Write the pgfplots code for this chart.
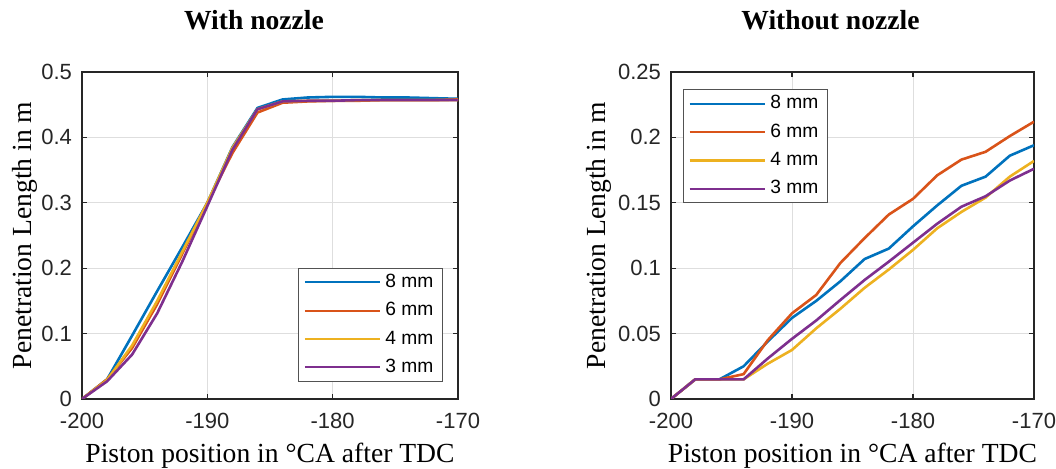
\documentclass[border=0pt]{standalone}
\usepackage{fontspec}
\setmainfont{Liberation Serif}
\setsansfont{Liberation Sans}
\usepackage{pgfplots}
\pgfplotsset{compat=1.18}

\definecolor{mblue}{rgb}{0,0.447,0.741}
\definecolor{morange}{rgb}{0.85,0.325,0.098}
\definecolor{myellow}{rgb}{0.929,0.694,0.125}
\definecolor{mpurple}{rgb}{0.494,0.184,0.556}
\definecolor{axgray}{rgb}{0.15,0.15,0.15}

\pgfplotsset{
  every axis title shift=0pt,
  panel/.style={
    scale only axis, anchor=south west, height=163.5pt,
    xmin=-200, xmax=-170, xtick={-200,-190,-180,-170},
    grid=major, major grid style={line width=0.4pt, black!13},
    axis line style={line width=0.6pt, axgray},
    every tick/.style={axgray, line width=0.6pt},
    tick align=inside, major tick length=2.5pt,
    ticklabel style={font=\sffamily\fontsize{11}{13}\selectfont, text=axgray},
    xticklabel style={yshift=-3.5pt},
    yticklabel style={xshift=-1.5pt},
    /pgf/number format/assume math mode=true,
    /pgf/number format/fixed, /pgf/number format/precision=2,
    ylabel={Penetration Length in m},
    xlabel={Piston position in °CA after TDC},
    label style={font=\fontsize{13.8}{16}\selectfont},
    xlabel style={at={(axis description cs:0.5,0)}, anchor=base, yshift=-31.8pt},
    title style={at={(axis description cs:0.5,1)}, anchor=base, yshift=21.3pt,
      font=\bfseries\fontsize{13.8}{16}\selectfont},
    every axis plot/.append style={line width=1.3pt},
    legend cell align=left,
    legend image code/.code={\draw[#1, line width=1.1pt] (0pt,0pt) -- (37.8pt,0pt);},
    legend style={font=\sffamily\fontsize{9.6}{11}\selectfont, draw=axgray!80,
      line width=0.5pt, fill=white, inner xsep=2.5pt, inner ysep=2pt,
      row sep=4pt, nodes={inner ysep=1pt, inner xsep=2pt}},
  }
}

\begin{document}
\begin{tikzpicture}
\useasboundingbox (0,0) rectangle (528pt,-234.5pt);

% left panel: with nozzle
\begin{axis}[panel,
  at={(41pt,-199.5pt)}, width=188pt,
  ymin=0, ymax=0.5, ytick={0,0.1,0.2,0.3,0.4,0.5},
  title={With nozzle}, title style={xshift=-8pt},
  ylabel style={at={(axis description cs:-0.1356,0.5)}, anchor=base},
  legend style={at={(0.96,0.052)}, anchor=south east},
]
\addplot[mblue] coordinates {
  (-200,0) (-198,0.030) (-196,0.097) (-194,0.165) (-192,0.232) (-190,0.300)
  (-188,0.385) (-186,0.445) (-184,0.458) (-182,0.461) (-180,0.462) (-178,0.462)
  (-176,0.461) (-174,0.461) (-172,0.460) (-170,0.459)};
\addlegendentry{8 mm}
\addplot[morange] coordinates {
  (-200,0) (-198,0.030) (-196,0.078) (-194,0.145) (-192,0.222) (-190,0.300)
  (-188,0.376) (-186,0.438) (-184,0.453) (-182,0.455) (-180,0.456) (-178,0.456)
  (-176,0.457) (-174,0.457) (-172,0.457) (-170,0.458)};
\addlegendentry{6 mm}
\addplot[myellow] coordinates {
  (-200,0) (-198,0.029) (-196,0.082) (-194,0.150) (-192,0.225) (-190,0.300)
  (-188,0.384) (-186,0.443) (-184,0.455) (-182,0.456) (-180,0.456) (-178,0.457)
  (-176,0.457) (-174,0.457) (-172,0.457) (-170,0.457)};
\addlegendentry{4 mm}
\addplot[mpurple] coordinates {
  (-200,0) (-198,0.027) (-196,0.068) (-194,0.131) (-192,0.210) (-190,0.295)
  (-188,0.381) (-186,0.443) (-184,0.455) (-182,0.456) (-180,0.456) (-178,0.457)
  (-176,0.457) (-174,0.457) (-172,0.457) (-170,0.457)};
\addlegendentry{3 mm}
\end{axis}

% right panel: without nozzle
\begin{axis}[panel,
  at={(335.5pt,-199.5pt)}, width=181.5pt,
  ymin=0, ymax=0.25, ytick={0,0.05,0.1,0.15,0.2,0.25},
  title={Without nozzle}, title style={xshift=-11pt},
  ylabel style={at={(axis description cs:-0.1818,0.5)}, anchor=base},
  legend style={at={(0.033,0.948)}, anchor=north west},
]
\addplot[mblue] coordinates {
  (-200,0) (-198,0.015) (-196,0.015) (-194,0.025) (-192,0.044) (-190,0.062)
  (-188,0.075) (-186,0.090) (-184,0.107) (-182,0.115) (-180,0.132) (-178,0.148)
  (-176,0.163) (-174,0.170) (-172,0.186) (-170,0.194)};
\addlegendentry{8 mm}
\addplot[morange] coordinates {
  (-200,0) (-198,0.015) (-196,0.015) (-194,0.019) (-192,0.045) (-190,0.0655)
  (-188,0.0795) (-186,0.104) (-184,0.123) (-182,0.141) (-180,0.153) (-178,0.171)
  (-176,0.183) (-174,0.189) (-172,0.201) (-170,0.212)};
\addlegendentry{6 mm}
\addplot[myellow] coordinates {
  (-200,0) (-198,0.015) (-196,0.015) (-194,0.015) (-192,0.027) (-190,0.0375)
  (-188,0.054) (-186,0.069) (-184,0.085) (-182,0.099) (-180,0.114) (-178,0.1305)
  (-176,0.143) (-174,0.154) (-172,0.170) (-170,0.182)};
\addlegendentry{4 mm}
\addplot[mpurple] coordinates {
  (-200,0) (-198,0.015) (-196,0.015) (-194,0.015) (-192,0.031) (-190,0.046)
  (-188,0.060) (-186,0.0757) (-184,0.091) (-182,0.105) (-180,0.1195) (-178,0.134)
  (-176,0.147) (-174,0.155) (-172,0.167) (-170,0.176)};
\addlegendentry{3 mm}
\end{axis}
\end{tikzpicture}
\end{document}
